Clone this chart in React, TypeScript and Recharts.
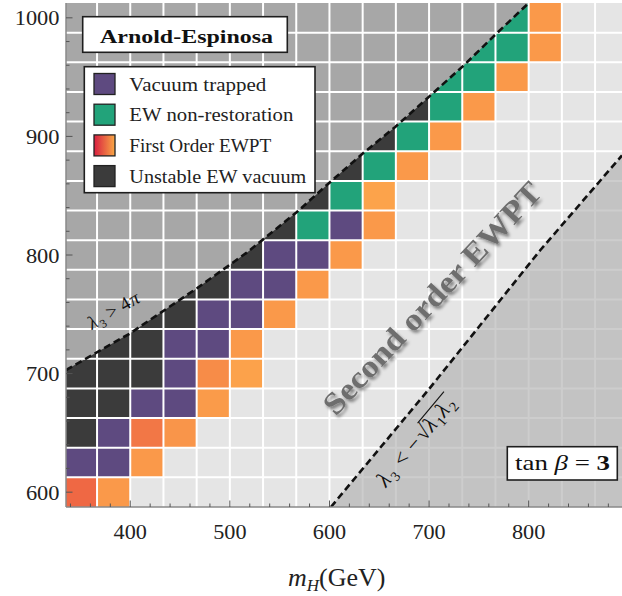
import React from 'react';
import {
  ComposedChart,
  XAxis,
  YAxis,
  CartesianGrid,
  ReferenceArea,
  ReferenceLine,
  Area,
  Line,
} from 'recharts';

// scan grid (GeV): cell centres
const mHColumns = [350, 383.33, 416.67, 450, 483.33, 516.67, 550, 583.33, 616.67, 650, 683.33, 716.67, 750, 783.33, 816.67, 850, 883.33];
const mARows = [600, 625, 650, 675, 700, 725, 750, 775, 800, 825, 850, 875, 900, 925, 950, 975, 1000];
const mHStep = 100 / 3;
const mAStep = 25;

// [mH, mA]
const vacuumTrapped = [
  [350, 625], [383.33, 625],
  [383.33, 650],
  [416.67, 675], [450, 675],
  [450, 700],
  [450, 725], [483.33, 725],
  [483.33, 750], [516.67, 750],
  [516.67, 775], [550, 775],
  [550, 800], [583.33, 800],
  [616.67, 825],
];

const ewNonRestoration = [
  [583.33, 825],
  [616.67, 850],
  [650, 875],
  [683.33, 900],
  [716.67, 925],
  [716.67, 950], [750, 950],
  [716.67, 975], [750, 975], [783.33, 975],
  [750, 1000], [783.33, 1000],
];

// [mH, mA, strength]  strength 0 = weak (orange) .. 1 = strong (red)
const firstOrder = [
  [350, 600, 0.5], [383.33, 600, 0.12],
  [416.67, 625, 0.12],
  [416.67, 650, 0.38], [450, 650, 0.15],
  [483.33, 675, 0.1],
  [483.33, 700, 0.22], [516.67, 700, 0.05],
  [516.67, 725, 0.12],
  [550, 750, 0.12],
  [583.33, 775, 0.12],
  [616.67, 800, 0.12],
  [650, 825, 0.12],
  [650, 850, 0.04],
  [683.33, 875, 0.12],
  [716.67, 900, 0.12],
  [750, 925, 0.12],
  [783.33, 950, 0.12],
  [816.67, 975, 0.12],
  [816.67, 1000, 0.12],
];

const unstableVacuum = [
  [350, 650],
  [350, 675], [383.33, 675],
  [350, 700], [383.33, 700], [416.67, 700],
  [350, 725], [383.33, 725], [416.67, 725],
  [383.33, 750], [416.67, 750], [450, 750],
  [416.67, 775], [450, 775], [483.33, 775],
  [450, 800], [483.33, 800], [516.67, 800],
  [516.67, 825], [550, 825],
  [550, 850], [583.33, 850],
  [583.33, 875], [616.67, 875],
  [616.67, 900], [650, 900],
  [650, 925], [683.33, 925],
  [683.33, 950],
];

// perturbativity bound  lambda3 > 4 pi
const pertBoundMH = [335.5, 400, 467, 517, 567, 600, 634, 666, 698, 735, 768, 800];
const pertBoundMA = [703, 734, 772, 802, 836, 861, 886, 908, 932, 960, 987, 1012.5];

// boundedness  lambda3 < -sqrt(l1 l2)
const stabBoundMH = [601.5, 700, 811.6, 893.7];
const stabBoundMA = [587.5, 687, 804, 884];

const xTicks = [340, 360, 380, 400, 420, 440, 460, 480, 500, 520, 540, 560, 580, 600, 620, 640, 660, 680, 700, 720, 740, 760, 780, 800, 820, 840, 860, 880];
const yTicks = [600, 620, 640, 660, 680, 700, 720, 740, 760, 780, 800, 820, 840, 860, 880, 900, 920, 940, 960, 980, 1000];

const X_DOMAIN: [number, number] = [335.5, 893.7];
const Y_DOMAIN: [number, number] = [587.5, 1012.5];

const C_TRAPPED = '#5e4a80';
const C_NONREST = '#22a37a';
const C_UNSTABLE = '#3b3b3b';
const FO_WEAK = [253, 168, 76];
const FO_STRONG = [224, 40, 60];

const serif = '"Liberation Serif", "Times New Roman", serif';
const tickColor = '#555';

const foColor = (s: number) => {
  const c = FO_WEAK.map((w, i) => Math.round(w + (FO_STRONG[i] - w) * s));
  return `rgb(${c[0]},${c[1]},${c[2]})`;
};

const upperRegion = pertBoundMH.map((m, i) => ({ mH: m, band: [pertBoundMA[i], Y_DOMAIN[1]] }));
const lowerRegion = stabBoundMH.map((m, i) => ({ mH: m, band: [Y_DOMAIN[0], stabBoundMA[i]] }));
const pertLine = pertBoundMH.map((m, i) => ({ mH: m, mA: pertBoundMA[i] }));
const stabLine = stabBoundMH.map((m, i) => ({ mH: m, mA: stabBoundMA[i] }));

const mHEdges = mHColumns.map((c) => c + mHStep / 2).filter((e) => e < X_DOMAIN[1]);
const mAEdges = mARows.map((r) => r + mAStep / 2).filter((e) => e < Y_DOMAIN[1]);

const cell = (mH: number, mA: number, fill: string, key: string) => (
  <ReferenceArea
    key={key}
    x1={mH - mHStep / 2}
    x2={mH + mHStep / 2}
    y1={mA - mAStep / 2}
    y2={mA + mAStep / 2}
    fill={fill}
    fillOpacity={1}
    stroke="none"
    ifOverflow="hidden"
    zIndex={100}
  />
);

const BottomTick = (props: any) => {
  const { x, y, payload } = props;
  const major = payload.value % 100 === 0;
  const label = String(payload.value);
  return (
    <g>
      <line x1={x} x2={x} y1={y} y2={y - (major ? 6.5 : 3.5)} stroke={tickColor} strokeWidth={1} />
      {major && (
        <text x={x} y={y + 32} textAnchor="middle" fontFamily={serif} fontSize={20} fill="#222"
          textLength={11.1 * label.length} lengthAdjust="spacingAndGlyphs">
          {label}
        </text>
      )}
    </g>
  );
};

const TopTick = (props: any) => {
  const { x, y, payload } = props;
  const major = payload.value % 100 === 0;
  return <line x1={x} x2={x} y1={y} y2={y + (major ? 6.5 : 3.5)} stroke={tickColor} strokeWidth={1} />;
};

const LeftTick = (props: any) => {
  const { x, y, payload } = props;
  const major = payload.value % 100 === 0;
  const label = String(payload.value);
  return (
    <g>
      <line x1={x} x2={x + (major ? 6.5 : 3.5)} y1={y} y2={y} stroke={tickColor} strokeWidth={1} />
      {major && (
        <text x={x - 6.5} y={y + 7.5} textAnchor="end" fontFamily={serif} fontSize={20} fill="#222"
          textLength={11.2 * label.length} lengthAdjust="spacingAndGlyphs">
          {label}
        </text>
      )}
    </g>
  );
};

const RightTick = (props: any) => {
  const { x, y, payload } = props;
  const major = payload.value % 100 === 0;
  return <line x1={x} x2={x - (major ? 6.5 : 3.5)} y1={y} y2={y} stroke={tickColor} strokeWidth={1} />;
};

const legendItems = [
  { label: 'Vacuum trapped', fill: C_TRAPPED, width: 137 },
  { label: 'EW non-restoration', fill: C_NONREST, width: 164 },
  { label: 'First Order EWPT', fill: 'url(#foGrad)', width: 142 },
  { label: 'Unstable EW vacuum', fill: C_UNSTABLE, width: 177 },
];

const Annotations = () => (
  <svg width={622} height={596} style={{ position: 'absolute', left: 0, top: 0, pointerEvents: 'none' }}>
    <defs>
      <linearGradient id="foGrad" x1="0" y1="0" x2="1" y2="0">
        <stop offset="0%" stopColor="#d81e40" />
        <stop offset="100%" stopColor="#f9a845" />
      </linearGradient>
      <filter id="softShadow" x="-20%" y="-20%" width="140%" height="140%">
        <feDropShadow dx="2" dy="2.5" stdDeviation="1.8" floodColor="#000" floodOpacity="0.45" />
      </filter>
    </defs>

    {/* title box */}
    <rect x={82.7} y={16.7} width={204.6} height={35.6} fill="#fff" stroke="#1e1e1e" strokeWidth={1.6} />
    <text x={100} y={42.5} fontFamily={serif} fontSize={18} fontWeight="bold" fill="#111"
      textLength={173} lengthAdjust="spacingAndGlyphs">
      Arnold-Espinosa
    </text>

    {/* legend */}
    <rect x={84.3} y={66.7} width={230.7} height={126} fill="#fff" stroke="#1e1e1e" strokeWidth={1.6} />
    {legendItems.map((it, i) => {
      const cy = 84 + i * 30.7;
      return (
        <g key={it.label}>
          <rect x={94} y={cy - 10.5} width={21} height={21} fill={it.fill} stroke="#222" strokeWidth={1.3} />
          <text x={129.3} y={cy + 6.5} fontFamily={serif} fontSize={19} fill="#222"
            textLength={it.width} lengthAdjust="spacingAndGlyphs">
            {it.label}
          </text>
        </g>
      );
    })}

    {/* tan beta box */}
    <rect x={507.3} y={446.7} width={110} height={33.3} fill="#fff" stroke="#1e1e1e" strokeWidth={1.6} />
    <text x={515} y={469.5} fontFamily={serif} fontSize={21} fill="#111" textLength={95} lengthAdjust="spacingAndGlyphs">
      tan <tspan fontStyle="italic">β</tspan> = <tspan fontWeight="bold">3</tspan>
    </text>

    {/* perturbativity label */}
    <g transform="translate(92,330) rotate(-30)" fontFamily={serif} fill="#111">
      <text fontSize={19}>
        <tspan x={0} y={0} fontStyle="italic">λ</tspan>
        <tspan x={10} y={4} fontSize={12}>3</tspan>
        <tspan x={21} y={0}>&gt;</tspan>
        <tspan x={37} y={0}>4</tspan>
        <tspan x={47} y={0} fontStyle="italic">π</tspan>
      </text>
    </g>

    {/* boundedness label */}
    <g transform="translate(386,488) rotate(-50)" fontFamily={serif} fill="#111">
      <text fontSize={22}>
        <tspan x={0} y={0} fontStyle="italic">λ</tspan>
        <tspan x={11.5} y={4.5} fontSize={14}>3</tspan>
        <tspan x={26} y={0}>&lt;</tspan>
        <tspan x={45} y={0}>−</tspan>
        <tspan x={60} y={0}>√</tspan>
        <tspan x={72} y={0} fontStyle="italic">λ</tspan>
        <tspan x={83.5} y={4.5} fontSize={14}>1</tspan>
        <tspan x={91} y={0} fontStyle="italic">λ</tspan>
        <tspan x={102.5} y={4.5} fontSize={14}>2</tspan>
      </text>
      <line x1={70} x2={111} y1={-17.5} y2={-17.5} stroke="#111" strokeWidth={1.1} />
    </g>

    {/* region label */}
    <g filter="url(#softShadow)">
      <text
        x={0}
        y={0}
        transform="translate(432,298) rotate(-47)"
        textAnchor="middle"
        dominantBaseline="central"
        fontFamily={serif}
        fontWeight="bold"
        fontSize={31}
        fill="#6e6e6e"
        textLength={305}
        lengthAdjust="spacingAndGlyphs"
      >
        Second order EWPT
      </text>
    </g>

    {/* x axis title */}
    <text x={288} y={586} fontFamily={serif} fontSize={26} fill="#222">
      <tspan fontStyle="italic">m</tspan>
      <tspan fontStyle="italic" fontSize={17} dy={5}>H</tspan>
      <tspan dy={-5}>(GeV)</tspan>
    </text>
  </svg>
);

const App: React.FC = () => {
  return (
    <div style={{ position: 'absolute', left: 0, top: 0, width: 622, height: 596, background: '#fff', overflow: 'hidden' }}>
      <ComposedChart width={622} height={596} margin={{ top: 3, right: 0, bottom: 0, left: 6 }}>
        <CartesianGrid fill="#e5e5e5" horizontal={false} vertical={false} stroke="none" />
        <XAxis
          xAxisId={0}
          dataKey="mH"
          type="number"
          domain={X_DOMAIN}
          allowDataOverflow
          ticks={xTicks}
          interval={0}
          tickSize={0}
          tickMargin={0}
          tickLine={false}
          axisLine={{ stroke: '#8a8a8a', strokeWidth: 1.5 }}
          height={89}
          tick={BottomTick}
        />
        <XAxis
          xAxisId="top"
          orientation="top"
          dataKey="mH"
          type="number"
          domain={X_DOMAIN}
          allowDataOverflow
          ticks={xTicks}
          interval={0}
          tickSize={0}
          tickMargin={0}
          tickLine={false}
          axisLine={{ stroke: '#b5b5b5', strokeWidth: 1 }}
          height={0}
          tick={TopTick}
        />
        <YAxis
          yAxisId={0}
          type="number"
          domain={Y_DOMAIN}
          allowDataOverflow
          ticks={yTicks}
          interval={0}
          tickSize={0}
          tickMargin={0}
          tickLine={false}
          axisLine={{ stroke: '#8a8a8a', strokeWidth: 1.5 }}
          width={60}
          tick={LeftTick}
        />
        <YAxis
          yAxisId="right"
          orientation="right"
          type="number"
          domain={Y_DOMAIN}
          allowDataOverflow
          ticks={yTicks}
          interval={0}
          tickSize={0}
          tickMargin={0}
          tickLine={false}
          axisLine={false}
          width={0}
          tick={RightTick}
        />

        {unstableVacuum.map(([h, a], i) => cell(h, a, C_UNSTABLE, `u${i}`))}
        {vacuumTrapped.map(([h, a], i) => cell(h, a, C_TRAPPED, `t${i}`))}
        {ewNonRestoration.map(([h, a], i) => cell(h, a, C_NONREST, `n${i}`))}
        {firstOrder.map(([h, a, s], i) => cell(h, a, foColor(s), `f${i}`))}

        <Area
          data={upperRegion}
          dataKey="band"
          type="linear"
          fill="#a7a7a7"
          fillOpacity={1}
          stroke="none"
          dot={false}
          activeDot={false}
          isAnimationActive={false}
          zIndex={110}
        />

        {mHEdges.map((e) => (
          <ReferenceLine key={`vx${e}`} x={e} stroke="#fff" strokeWidth={2} zIndex={120} />
        ))}
        {mAEdges.map((e) => (
          <ReferenceLine key={`hy${e}`} y={e} stroke="#fff" strokeWidth={2} zIndex={120} />
        ))}

        <Area
          data={lowerRegion}
          dataKey="band"
          type="linear"
          fill="#acacac"
          fillOpacity={0.6}
          stroke="none"
          dot={false}
          activeDot={false}
          isAnimationActive={false}
          zIndex={130}
        />

        <Line
          data={pertLine}
          dataKey="mA"
          type="linear"
          stroke="#111"
          strokeWidth={2.6}
          strokeDasharray="7 4"
          dot={false}
          activeDot={false}
          isAnimationActive={false}
          zIndex={140}
        />
        <Line
          data={stabLine}
          dataKey="mA"
          type="linear"
          stroke="#111"
          strokeWidth={2.6}
          strokeDasharray="7 4"
          dot={false}
          activeDot={false}
          isAnimationActive={false}
          zIndex={140}
        />
      </ComposedChart>
      <Annotations />
    </div>
  );
};

export default App;
